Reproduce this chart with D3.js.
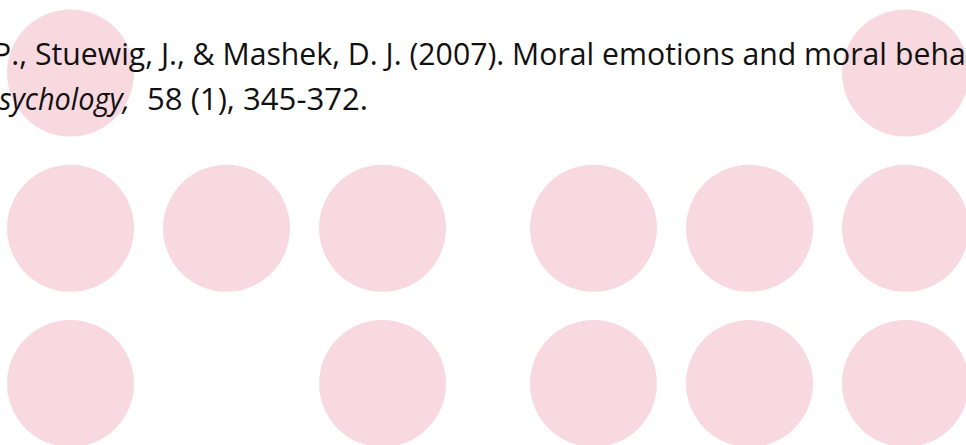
<!DOCTYPE html>
<html>
<head>
<meta charset="utf-8">
<script src="https://cdn.jsdelivr.net/npm/d3@7"></script>
<style>
  html, body { margin: 0; padding: 0; background: #fff; overflow: hidden; }
</style>
</head>
<body>
<div id="chart"></div>
<script>
// dot matrix: two groups of three columns, three rows
var rows = ['r1', 'r2', 'r3'];
var groups = ['left', 'right'];
var cols = ['a', 'b', 'c'];
var filled = [
  [1, 0, 0, 0, 0, 1],
  [1, 1, 1, 1, 1, 1],
  [1, 0, 1, 1, 1, 1]
];

// citation text (the slide crops it on both sides)
var line1Start = 'P.,';
var line1Mid = 'Stuewig, J., & Mashek, D. J. (2007). Moral emotions and moral';
var line1End = 'behavior.';
var line2Italic = 'sychology,';
var line2Rest = '58 (1), 345-372.';

var width = 966, height = 445;

var svg = d3.select('#chart')
  .append('svg')
    .attr('width', width)
    .attr('height', height);

var y_scale = d3.scalePoint()
  .domain(rows)
  .range([73, 383.5]);
var group_scale = d3.scalePoint()
  .domain(groups)
  .range([226.5, 749.5]);
var col_scale = d3.scalePoint()
  .domain(cols)
  .range([-156, 156]);

var cells = [];
rows.forEach(function(r, i) {
  groups.forEach(function(g, gi) {
    cols.forEach(function(c, ci) {
      if (filled[i][gi * 3 + ci]) cells.push({row: r, group: g, col: c});
    });
  });
});

svg.selectAll('circle.dot')
  .data(cells)
  .enter()
  .append('circle')
    .attr('class', 'dot')
    .attr('cx', function(d) { return group_scale(d.group) + col_scale(d.col); })
    .attr('cy', function(d) { return y_scale(d.row); })
    .attr('r', 63.5)
    .style('fill', '#f9d9e0');

// text: condensed look via textLength
var txt = svg.append('g')
  .style('font-family', '"Open Sans", "Noto Sans", sans-serif')
  .style('font-weight', 400)
  .style('font-size', '31.5px')
  .style('fill', '#111');

var midLen = 852;
txt.append('text')
  .attr('x', 35).attr('y', 65)
  .attr('textLength', midLen)
  .attr('lengthAdjust', 'spacingAndGlyphs')
  .text(line1Mid);
var sx = midLen / (function() {
  var p = txt.append('text').text(line1Mid);
  var w = p.node().getComputedTextLength();
  p.remove();
  return w;
})();

txt.append('text')
  .attr('transform', 'translate(27,65) scale(' + sx + ',1)')
  .attr('text-anchor', 'end')
  .text(line1Start);

txt.append('text')
  .attr('transform', 'translate(895,65) scale(' + sx + ',1)')
  .text(line1End);

txt.append('text')
  .attr('x', -1).attr('y', 110)
  .attr('textLength', 131)
  .attr('lengthAdjust', 'spacingAndGlyphs')
  .style('font-style', 'italic')
  .text(line2Italic);

txt.append('text')
  .attr('x', 147).attr('y', 110)
  .attr('textLength', 221)
  .attr('lengthAdjust', 'spacingAndGlyphs')
  .text(line2Rest);
</script>
</body>
</html>
